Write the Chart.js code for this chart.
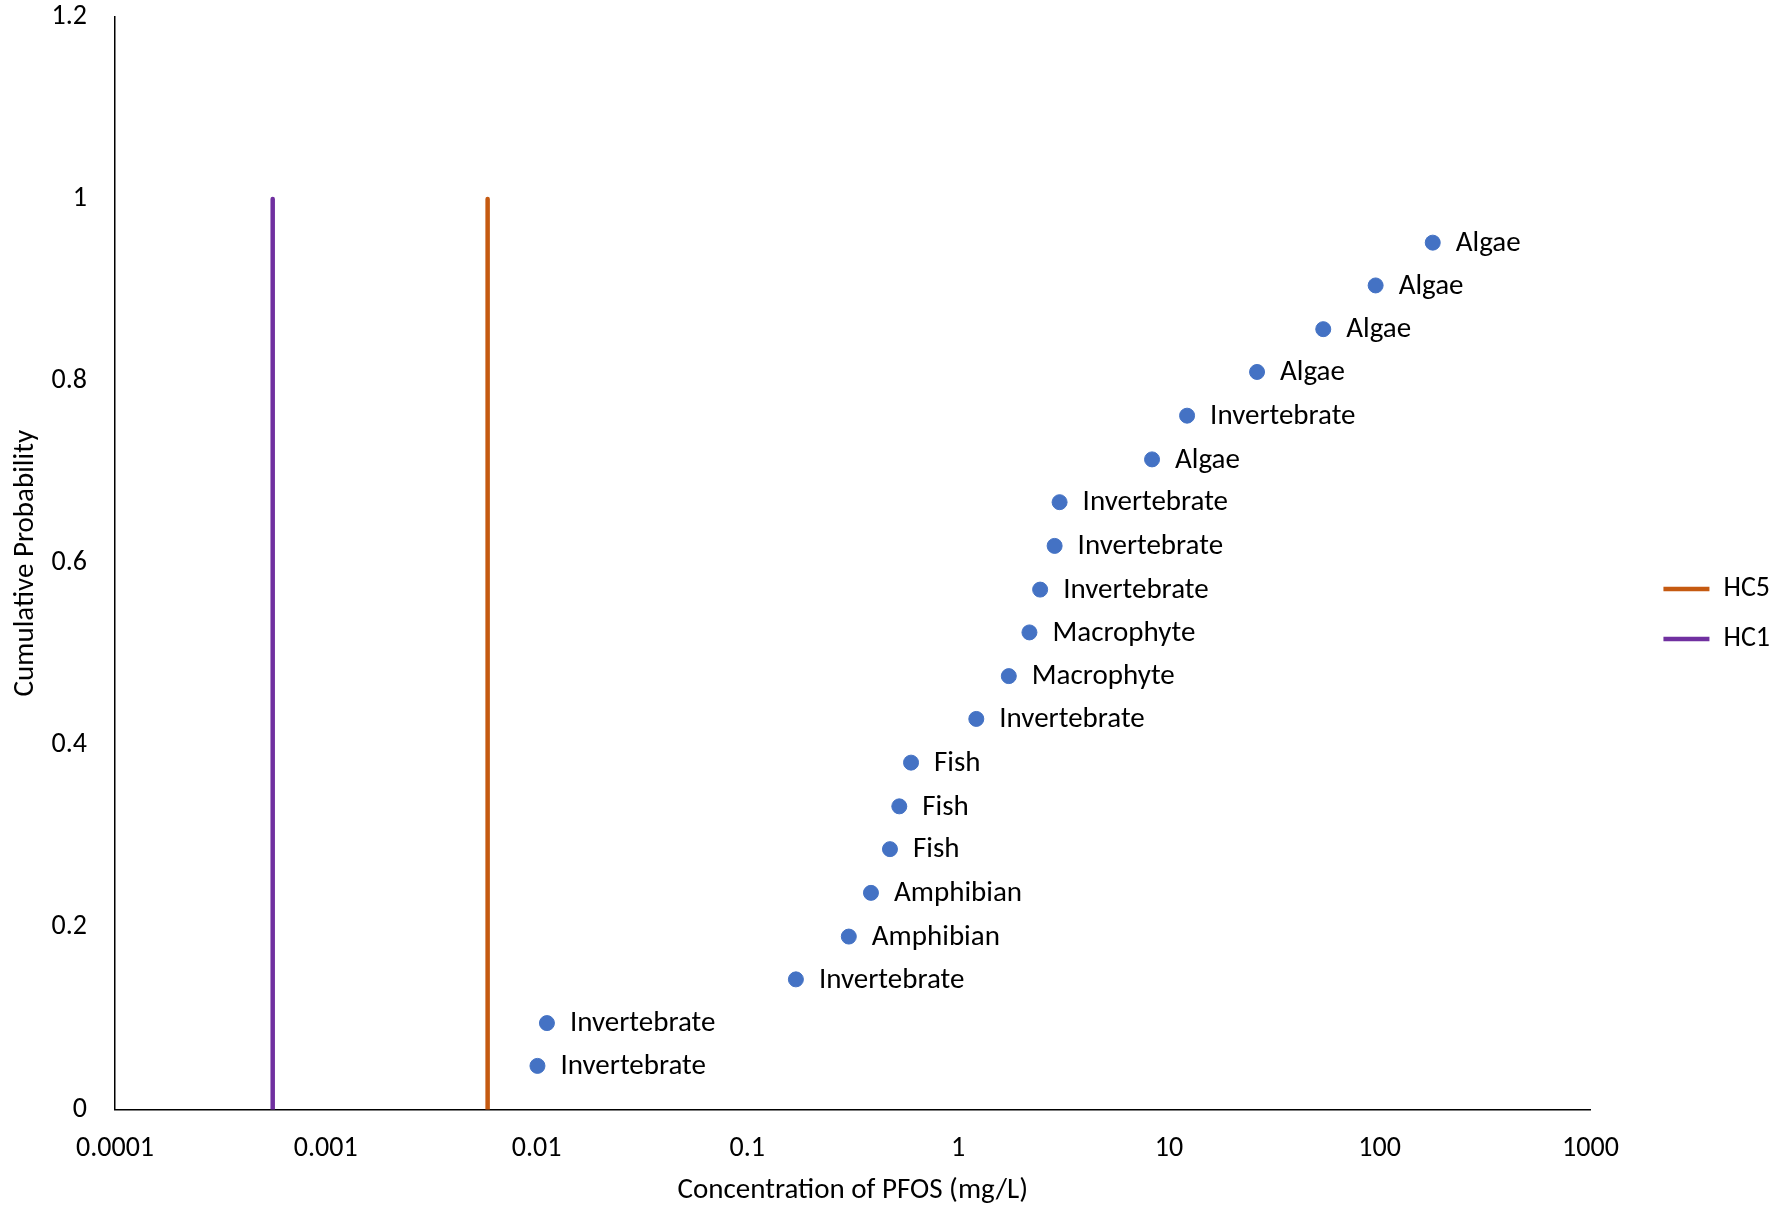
<!DOCTYPE html>
<html>
<head>
<meta charset="utf-8">
<script src="https://cdn.jsdelivr.net/npm/chart.js@4.4.1/dist/chart.umd.min.js"></script>
<style>
  html, body { margin: 0; padding: 0; background: #fff; }
  #wrap { width: 1789px; height: 1208px; }
</style>
</head>
<body>
<div id="wrap"><canvas id="myChart" width="1789" height="1208"></canvas></div>
<script>
// species sensitivity distribution, PFOS
const species = ["Invertebrate", "Invertebrate", "Invertebrate", "Amphibian", "Amphibian",
  "Fish", "Fish", "Fish", "Invertebrate", "Macrophyte", "Macrophyte", "Invertebrate",
  "Invertebrate", "Invertebrate", "Algae", "Invertebrate", "Algae", "Algae", "Algae", "Algae"];
const concentration = [0.0101, 0.0112, 0.170, 0.303, 0.386, 0.475, 0.526, 0.598, 1.22, 1.74,
  2.18, 2.45, 2.87, 3.03, 8.32, 12.2, 26.2, 54.0, 95.7, 178.6];
const cumProb = [0.048, 0.095, 0.143, 0.190, 0.238, 0.286, 0.333, 0.381, 0.429, 0.476,
  0.524, 0.571, 0.619, 0.667, 0.714, 0.762, 0.810, 0.857, 0.905, 0.952];

const hc5 = 0.00586;
const hc1 = 0.00056;
const hazardY = [0, 1];

const xTickValues = [0.0001, 0.001, 0.01, 0.1, 1, 10, 100, 1000];
const xTickLabels = ["0.0001", "0.001", "0.01", "0.1", "1", "10", "100", "1000"];
const yTickValues = [0, 0.2, 0.4, 0.6, 0.8, 1, 1.2];
const yTickLabels = ["0", "0.2", "0.4", "0.6", "0.8", "1", "1.2"];

const FONT = "Carlito, Calibri, Lato, sans-serif";
const TEXT_FS = 29;   // point labels and axis titles
const TICK_FS = 28;
const LEGEND_FS = 28;

const pointLabels = {
  id: 'pointLabels',
  afterDatasetsDraw(chart) {
    const ctx = chart.ctx;
    const meta = chart.getDatasetMeta(0);
    ctx.save();
    ctx.font = `${TEXT_FS}px ${FONT}`;
    ctx.fillStyle = '#000';
    ctx.textBaseline = 'middle';
    ctx.textAlign = 'left';
    meta.data.forEach((pt, i) => {
      ctx.fillText(species[i], pt.x + 23, pt.y + 1);
    });
    ctx.restore();
  }
};

const hiddenTicks = { display: true, drawOnChartArea: false, drawTicks: true, color: 'rgba(0,0,0,0)' };

const ctx = document.getElementById('myChart').getContext('2d');
const chart = new Chart(ctx, {
  type: 'scatter',
  data: {
    datasets: [{
      label: 'Species',
      data: concentration.map((c, i) => ({x: c, y: cumProb[i]})),
      backgroundColor: '#4472C4',
      borderColor: '#4472C4',
      pointRadius: 7.5,
      pointHoverRadius: 7.5,
    }, {
      label: 'HC5',
      data: hazardY.map(y => ({x: hc5, y: y})),
      showLine: true,
      borderColor: '#C55A11',
      backgroundColor: '#C55A11',
      borderWidth: 4.5,
      borderCapStyle: 'round',
      pointRadius: 0,
    }, {
      label: 'HC1',
      data: hazardY.map(y => ({x: hc1, y: y})),
      showLine: true,
      borderColor: '#7030A0',
      backgroundColor: '#7030A0',
      borderWidth: 4.5,
      borderCapStyle: 'round',
      pointRadius: 0,
    }]
  },
  options: {
    responsive: false,
    animation: false,
    devicePixelRatio: 1,
    layout: { padding: { left: 0, right: 9, top: 0, bottom: 0 } },
    plugins: {
      tooltip: { enabled: false },
      legend: {
        position: 'right',
        align: 'center',
        title: { display: true, text: ' ', font: { size: 10 }, padding: { top: 0, bottom: 8 } },
        labels: {
          filter: item => item.text !== 'Species',
          usePointStyle: true,
          pointStyle: 'line',
          pointStyleWidth: 46,
          padding: 22,
          color: '#000',
          font: { family: FONT, size: LEGEND_FS },
        }
      }
    },
    scales: {
      x: {
        type: 'logarithmic',
        min: 0.0001,
        max: 1000,
        afterBuildTicks: scale => {
          scale.ticks = xTickValues.map(v => ({value: v}));
        },
        ticks: {
          color: '#000',
          font: { family: FONT, size: TICK_FS },
          padding: 0,
          maxRotation: 0,
          autoSkip: false,
          callback: (val) => {
            const idx = xTickValues.indexOf(val);
            return idx >= 0 ? xTickLabels[idx] : '';
          }
        },
        grid: Object.assign({ tickLength: 23 }, hiddenTicks),
        border: { display: true, color: '#000', width: 1.5 },
        title: {
          display: true,
          text: 'Concentration of PFOS (mg/L)',
          color: '#000',
          font: { family: FONT, size: TEXT_FS },
          padding: { top: 7, bottom: 0 }
        }
      },
      y: {
        min: 0,
        max: 1.2,
        afterBuildTicks: scale => {
          scale.ticks = yTickValues.map(v => ({value: v}));
        },
        afterFit: scale => { scale.width = 115; },
        ticks: {
          color: '#000',
          font: { family: FONT, size: TICK_FS },
          padding: 0,
          callback: (val) => {
            const idx = yTickValues.findIndex(v => Math.abs(v - val) < 1e-9);
            return idx >= 0 ? yTickLabels[idx] : '';
          }
        },
        grid: Object.assign({ tickLength: 28 }, hiddenTicks),
        border: { display: true, color: '#000', width: 1.5 },
        title: {
          display: true,
          text: 'Cumulative Probability',
          color: '#000',
          font: { family: FONT, size: TEXT_FS },
          padding: { top: 8, bottom: 4 }
        }
      },
      gap: {
        type: 'linear',
        position: 'right',
        display: true,
        grid: { display: false },
        border: { display: false },
        ticks: { display: false },
        afterFit: scale => { scale.width = 51; }
      }
    }
  },
  plugins: [pointLabels]
});
</script>
</body>
</html>
